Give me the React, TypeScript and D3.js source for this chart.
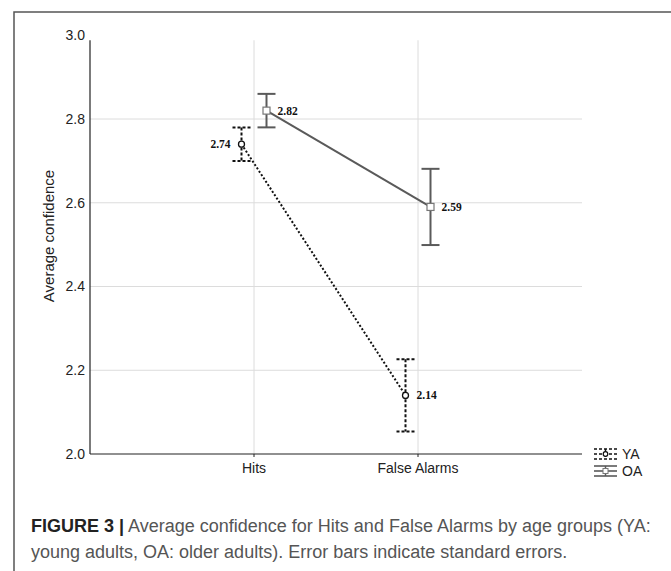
import React from "react";
import * as d3 from "d3";

const categories = ["Hits", "False Alarms"];
const groups = ["YA", "OA"];
const yaMeans = [2.74, 2.14];
const yaSE = [0.04, 0.086];
const oaMeans = [2.82, 2.59];
const oaSE = [0.04, 0.091];
const yTicks = [2.0, 2.2, 2.4, 2.6, 2.8, 3.0];
const captionBold = "FIGURE 3 |";
const captionLine1 = " Average confidence for Hits and False Alarms by age groups (YA:";
const captionLine2 = "young adults, OA: older adults). Error bars indicate standard errors.";

export default function App() {
  const W = 671, H = 571;
  const left = 90, right = 582, top = 35.25, bottom = 454;
  const x = d3.scalePoint<string>().domain(["", ...categories, " "]).range([left, right]);
  const y = d3.scaleLinear().domain([2.0, 3.0]).range([bottom, top]);
  const off = 12.5;
  const capW = 9;
  const sans = "'Liberation Sans', Arial, sans-serif";
  const serif = "'Liberation Serif', 'Times New Roman', serif";

  const series = [
    { name: groups[0], means: yaMeans, se: yaSE, dx: -off, color: "#111", lineDash: "2,2", barDash: "3,2", width: 2, marker: "circle", labelSide: [-1, 1] },
    { name: groups[1], means: oaMeans, se: oaSE, dx: off, color: "#5a5a5a", lineDash: undefined, barDash: undefined, width: 2, marker: "square", labelSide: [1, 1] },
  ];

  const lineGen = d3.line<number>()
    .x((_, i) => (x(categories[i]) as number))
    .y((d) => y(d));

  return (
    <svg width={W} height={H} style={{ position: "absolute", left: 0, top: 0, background: "#fff" }}>
      {/* frame */}
      <path d={`M14,${H} L14,12 L${W},12`} fill="none" stroke="#555" strokeWidth={1.5} />
      {/* gridlines */}
      {yTicks.filter((t) => t > 2.0 && t < 3.0).map((t) => (
        <line key={t} x1={left} x2={right} y1={y(t)} y2={y(t)} stroke="#dcdcdc" strokeWidth={1} />
      ))}
      {categories.map((c) => (
        <line key={c} x1={x(c)} x2={x(c)} y1={y(3.0) + 5} y2={bottom} stroke="#dcdcdc" strokeWidth={1} />
      ))}
      {/* axes */}
      <line x1={left} x2={left} y1={y(3.0) + 5} y2={bottom} stroke="#222" strokeWidth={1.2} />
      <line x1={left} x2={right} y1={bottom} y2={bottom} stroke="#222" strokeWidth={1.2} />
      {categories.map((c) => (
        <line key={c} x1={x(c)} x2={x(c)} y1={bottom} y2={bottom + 3} stroke="#222" strokeWidth={1} />
      ))}
      {yTicks.map((t) => (
        <text key={t} x={left - 5} y={y(t)} dy="0.35em" textAnchor="end" fontFamily={sans} fontSize={14} fill="#222">
          {t.toFixed(1)}
        </text>
      ))}
      {categories.map((c) => (
        <text key={c} x={x(c)} y={bottom + 19} textAnchor="middle" fontFamily={sans} fontSize={14} fill="#222">
          {c}
        </text>
      ))}
      <text transform={`translate(${54},${236}) rotate(-90)`} textAnchor="middle" fontFamily={sans} fontSize={15} fill="#222">
        Average confidence
      </text>

      {/* series */}
      {series.map((s) => (
        <g key={s.name}>
          <path
            d={lineGen(s.means) || ""}
            transform={`translate(${s.dx},0)`}
            fill="none"
            stroke={s.color}
            strokeWidth={s.width}
            strokeDasharray={s.lineDash}
          />
          {s.means.map((m, i) => {
            const cx = (x(categories[i]) as number) + s.dx;
            const yt = y(m + s.se[i]);
            const yb = y(m - s.se[i]);
            const cy = y(m);
            const side = s.labelSide[i];
            return (
              <g key={i}>
                <line x1={cx} x2={cx} y1={yt} y2={yb} stroke={s.color} strokeWidth={2} strokeDasharray={s.barDash} />
                <line x1={cx - capW} x2={cx + capW} y1={yt} y2={yt} stroke={s.color} strokeWidth={2} strokeDasharray={s.barDash} />
                <line x1={cx - capW} x2={cx + capW} y1={yb} y2={yb} stroke={s.color} strokeWidth={2} strokeDasharray={s.barDash} />
                {s.marker === "circle" ? (
                  <circle cx={cx} cy={cy} r={3} fill="#fff" stroke={s.color} strokeWidth={1.3} />
                ) : (
                  <rect x={cx - 3.5} y={cy - 3.5} width={7} height={7} fill="#fff" stroke="#777" strokeWidth={1.2} />
                )}
                <text
                  x={cx + side * 11}
                  y={cy}
                  dy="0.35em"
                  textAnchor={side > 0 ? "start" : "end"}
                  fontFamily={serif}
                  fontWeight="bold"
                  fontSize={11.5}
                  fill="#111"
                >
                  {m.toFixed(2)}
                </text>
              </g>
            );
          })}
        </g>
      ))}

      {/* legend */}
      {series.map((s, i) => {
        const ly = 454 + i * 17;
        const lx0 = 594, lx1 = 617, lc = (lx0 + lx1) / 2;
        return (
          <g key={s.name}>
            {[-5, 0, 5].map((d) => (
              <line key={d} x1={lx0} x2={lx1} y1={ly + d} y2={ly + d} stroke={s.color} strokeWidth={1.6} strokeDasharray={s.barDash} />
            ))}
            <line x1={lc} x2={lc} y1={ly - 5} y2={ly + 5} stroke={s.color} strokeWidth={1.5} strokeDasharray={s.barDash} />
            {s.marker === "circle" ? (
              <circle cx={lc} cy={ly} r={2.3} fill="#fff" stroke={s.color} strokeWidth={1.2} />
            ) : (
              <rect x={lc - 2.5} y={ly - 2.5} width={5} height={5} fill="#fff" stroke="#777" strokeWidth={1} />
            )}
            <text x={622} y={ly} dy="0.35em" fontFamily={sans} fontSize={14} fill="#222">
              {s.name}
            </text>
          </g>
        );
      })}

      {/* caption */}
      <text x={31} y={532} fontFamily={sans} fontSize={18} fill="#555">
        <tspan fontWeight="bold" fill="#222">{captionBold}</tspan>
        <tspan>{captionLine1}</tspan>
      </text>
      <text x={31} y={558} fontFamily={sans} fontSize={18} fill="#555">
        {captionLine2}
      </text>
    </svg>
  );
}
